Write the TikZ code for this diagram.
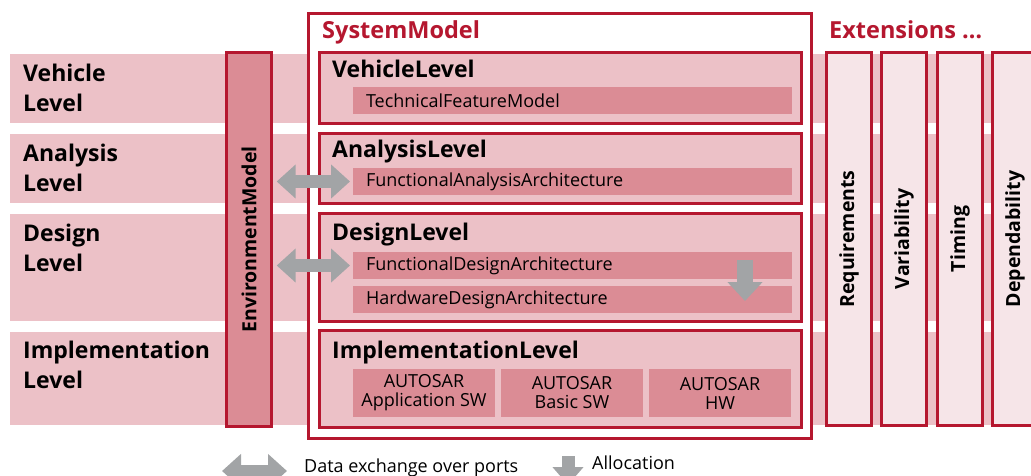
\documentclass[tikz,border=0pt]{standalone}
\usepackage{fontspec}
\setmainfont{Open Sans}
\usetikzlibrary{arrows.meta}
\definecolor{bandc}{HTML}{ECC1C7}
\definecolor{innerc}{HTML}{DB8C95}
\definecolor{redc}{HTML}{B5172F}
\definecolor{extc}{HTML}{F6E5E8}
\definecolor{arrc}{HTML}{A2A4A6}
\begin{document}
\begin{tikzpicture}[x=1pt,y=-1pt,
  bandbox/.style={fill=bandc, draw=none, anchor=north west, inner sep=0pt, outer sep=0pt},
  lvlbox/.style={fill=bandc, draw=redc, line width=2.6pt, anchor=north west, inner sep=0pt, outer sep=0pt},
  sysbox/.style={fill=white, draw=redc, line width=2.6pt, anchor=north west, inner sep=0pt, outer sep=0pt},
  envbox/.style={fill=innerc, draw=redc, line width=2.6pt, anchor=north west, inner sep=0pt, outer sep=0pt},
  extbox/.style={fill=extc, draw=redc, line width=2.6pt, anchor=north west, inner sep=0pt, outer sep=0pt},
  innerbox/.style={fill=innerc, draw=none, anchor=north west, outer sep=0pt, inner xsep=13pt, inner ysep=0pt,
     minimum height=27pt, text width=413pt, align=left, font=\fontsize{18}{19}\selectfont},
  autobox/.style={fill=innerc, draw=none, anchor=north west, outer sep=0pt, inner sep=0pt,
     minimum width=142pt, minimum height=48pt, align=center, font=\fontsize{18}{19}\selectfont},
  boldlbl/.style={font=\bfseries\fontsize{23}{30}\selectfont, inner sep=0pt, anchor=base west, align=left},
  redlbl/.style={font=\bfseries\fontsize{23.5}{27}\selectfont, text=redc, inner sep=0pt, anchor=base west},
  vertlbl/.style={font=\bfseries\fontsize{19.5}{24}\selectfont, rotate=90, inner sep=0pt},
  legtxt/.style={font=\fontsize{18}{19}\selectfont, inner sep=0pt, anchor=base west},
  dexch/.style={draw=arrc, line width=13pt, {Triangle[length=19pt,width=33pt]}-{Triangle[length=19pt,width=33pt]}},
  alloc/.style={draw=arrc, line width=16pt, -{Triangle[length=19pt,width=34pt]}}
]
\useasboundingbox (0,0) rectangle (1031,475);

% background bands
\node[bandbox, minimum width=1030pt, minimum height=69pt] (b1) at (10,54) {};
\node[bandbox, minimum width=1030pt, minimum height=69pt] (b2) at (10,134) {};
\node[bandbox, minimum width=1030pt, minimum height=107pt] (b3) at (10,214) {};
\node[bandbox, minimum width=1030pt, minimum height=93pt] (b4) at (10,332) {};

% left labels (anchor = baseline of last line)
\node[boldlbl] (lv) at (23,111.7) {Vehicle\\Level};
\node[boldlbl] (la) at (23,191.7) {Analysis\\Level};
\node[boldlbl] (ld) at (23,271.7) {Design\\Level};
\node[boldlbl] (li) at (23,388) {Implementation\\Level};

% environment model
\node[envbox, minimum width=45.4pt, minimum height=374.4pt] (env) at (226.3,52.3) {};
\node[vertlbl] (envt) at (env.center) {EnvironmentModel};

% system model
\node[sysbox, minimum width=503.4pt, minimum height=425.4pt] (sys) at (308.3,13.3) {};
\node[redlbl] (syst) at (322,38) {SystemModel};

\node[lvlbox, minimum width=482.4pt, minimum height=71.4pt] (vl) at (319.3,52.3) {};
\node[lvlbox, minimum width=482.4pt, minimum height=70.4pt] (al) at (319.3,133.3) {};
\node[lvlbox, minimum width=482.4pt, minimum height=108.4pt] (dl) at (319.3,213.3) {};
\node[lvlbox, minimum width=482.4pt, minimum height=97.4pt] (il) at (319.3,330.3) {};

\node[boldlbl] (vlt) at (332,77) {VehicleLevel};
\node[boldlbl] (alt) at (332,157) {AnalysisLevel};
\node[boldlbl] (dlt) at (332,240) {DesignLevel};
\node[boldlbl] (ilt) at (332,358) {ImplementationLevel};

\node[innerbox] (tfm) at (353,87) {TechnicalFeatureModel};
\node[innerbox] (faa) at (353,168) {FunctionalAnalysisArchitecture};
\node[innerbox] (fda) at (353,252) {FunctionalDesignArchitecture};
\node[innerbox] (hda) at (353,286) {HardwareDesignArchitecture};

\node[autobox] (aas) at (353,369) {AUTOSAR\\Application SW};
\node[autobox] (abs) at (501,369) {AUTOSAR\\Basic SW};
\node[autobox] (ahw) at (649,369) {AUTOSAR\\HW};

% extensions
\node[redlbl] (extt) at (829,38) {Extensions …};
\node[extbox, minimum width=45.4pt, minimum height=373.4pt] (req) at (826.3,52.3) {};
\node[extbox, minimum width=45.4pt, minimum height=373.4pt] (var) at (881.3,52.3) {};
\node[extbox, minimum width=45.4pt, minimum height=373.4pt] (tim) at (937.3,52.3) {};
\node[extbox, minimum width=45.4pt, minimum height=373.4pt] (dep) at (992.3,52.3) {};
\node[vertlbl] (reqt) at (req.center) {Requirements};
\node[vertlbl] (vart) at (var.center) {Variability};
\node[vertlbl] (timt) at (tim.center) {Timing};
\node[vertlbl] (dept) at (dep.center) {Dependability};

% connectors
\draw[dexch] ([xshift=5pt]env.east |- faa.west) -- ([xshift=-3pt]faa.west);
\draw[dexch] ([xshift=5pt]env.east |- fda.west) -- ([xshift=-3pt]fda.west);
\draw[alloc] ([xshift=-47pt,yshift=6pt]fda.east) -- ([xshift=-47pt,yshift=-1.5pt]hda.east);

% legend
\coordinate (lg1) at (222,471);
\coordinate (lg2) at (287,471);
\draw[dexch] (lg1) -- (lg2);
\node[legtxt] (lgt1) at (304,472.5) {Data exchange over ports};
\coordinate (la1) at (568,456);
\coordinate (la2) at (568,485);
\draw[alloc, line width=13pt, -{Triangle[length=18pt,width=30pt]}] (la1) -- (la2);
\node[legtxt] (lgt2) at (592,469.5) {Allocation};
\end{tikzpicture}
\end{document}
